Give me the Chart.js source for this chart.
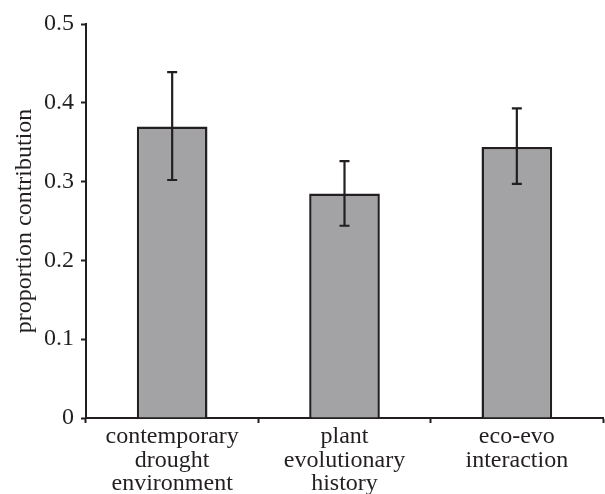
<!DOCTYPE html>
<html>
<head>
<meta charset="utf-8">
<script src="https://cdn.jsdelivr.net/npm/chart.js@4"></script>
<style>
  body { margin: 0; background: #fff; }
  canvas { display: block; }
</style>
</head>
<body>
<canvas id="chart" width="605" height="494"></canvas>
<script>
// categories and values
const categories = [
    ['contemporary', 'drought', 'environment'],
    ['plant', 'evolutionary', 'history'],
    ['eco-evo', 'interaction']
];
const means = [0.370, 0.285, 0.344];
const errLow = [0.302, 0.244, 0.297];
const errHigh = [0.439, 0.326, 0.393];
const yTicks = [0, 0.1, 0.2, 0.3, 0.4, 0.5];

const ink = '#231f20';
const serif = 'Liberation Serif';

// draws the whiskers on top of each bar
const errorBars = {
    id: 'errorBars',
    afterDatasetsDraw(chart) {
        const ctx = chart.ctx;
        const meta = chart.getDatasetMeta(0);
        const y = chart.scales.y;
        ctx.save();
        ctx.strokeStyle = ink;
        ctx.lineWidth = 2.2;
        meta.data.forEach((bar, i) => {
            const top = y.getPixelForValue(errHigh[i]);
            const bot = y.getPixelForValue(errLow[i]);
            ctx.beginPath();
            ctx.moveTo(bar.x, top);
            ctx.lineTo(bar.x, bot);
            ctx.moveTo(bar.x - 5, top);
            ctx.lineTo(bar.x + 5, top);
            ctx.moveTo(bar.x - 5, bot);
            ctx.lineTo(bar.x + 5, bot);
            ctx.stroke();
        });
        ctx.restore();
    }
};

new Chart(document.getElementById('chart'), {
    type: 'bar',
    data: {
        labels: categories,
        datasets: [{
            data: means,
            backgroundColor: '#a3a3a5',
            borderColor: ink,
            borderWidth: 2.5,
            barPercentage: 0.41,
            categoryPercentage: 1
        }]
    },
    options: {
        responsive: false,
        animation: false,
        layout: { padding: { top: 24, right: 2, left: 0, bottom: 0 } },
        plugins: {
            legend: { display: false },
            tooltip: { enabled: false }
        },
        scales: {
            x: {
                z: 1,
                offset: true,
                border: { color: ink, width: 2 },
                grid: {
                    offset: true,
                    drawOnChartArea: false,
                    tickLength: 5,
                    tickColor: ink,
                    tickWidth: 2
                },
                ticks: {
                    color: ink,
                    padding: 2,
                    maxRotation: 0,
                    autoSkip: false,
                    font: { family: serif, size: 24, lineHeight: 0.98 }
                },
                afterFit(scale) { scale.height = 76; }
            },
            y: {
                min: 0,
                max: 0.5,
                border: { color: ink, width: 2 },
                grid: {
                    drawOnChartArea: false,
                    tickLength: 5,
                    tickColor: ink,
                    tickWidth: 2
                },
                afterBuildTicks(scale) {
                    scale.ticks = yTicks.map(v => ({ value: v }));
                },
                ticks: {
                    color: ink,
                    padding: 7,
                    font: { family: serif, size: 24 },
                    callback: v => String(Math.round(v * 10) / 10)
                },
                title: {
                    display: true,
                    text: 'proportion contribution',
                    color: ink,
                    padding: { top: 10, bottom: 0 },
                    font: { family: serif, size: 24 }
                },
                afterFit(scale) { scale.width = 86; }
            }
        }
    },
    plugins: [errorBars]
});
</script>
</body>
</html>
